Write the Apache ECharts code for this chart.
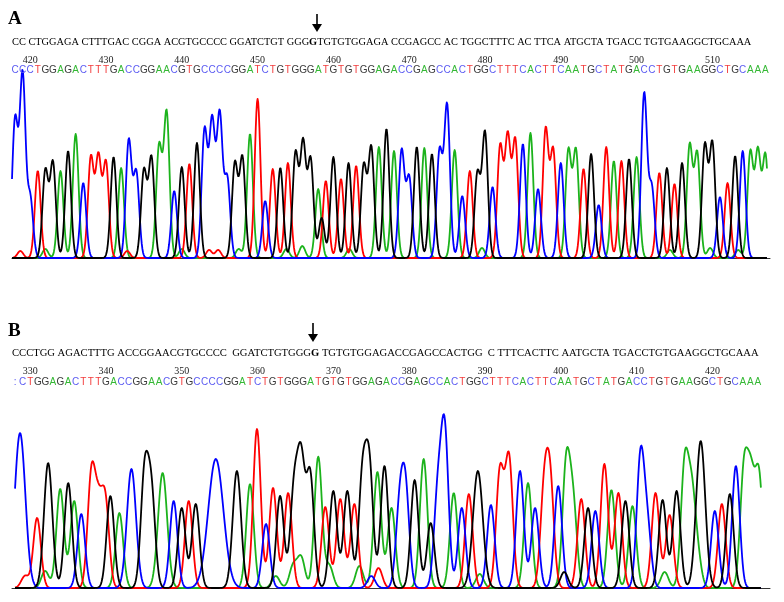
<!DOCTYPE html>
<html>
<head>
<meta charset="utf-8">
<script src="https://cdn.jsdelivr.net/npm/echarts@6/dist/echarts.min.js"></script>
<style>
	html, body { margin: 0; padding: 0; background: #fff; }
	#chart { width: 784px; height: 602px; }
</style>
</head>
<body>
<div id="chart"></div>
<script>
// ---- data, panel A ----
var seqA = 'CCCTGGAGACTTTGACCGGAACGTGCCCCGGATCTGTGGGATGTGTGGAGACCGAGCCACTGGCTTTCACTTCAATGCTATGACCTGTGAAGGCTGCAAA';
var startA = 418;
var heightsA = [
	137, 182, 60, 87, 87, 95, 87, 107, 124, 75,
	100, 100, 95, 101, 90, 117, 85, 87, 100, 111,
	145, 67, 91, 94, 115, 127, 135, 142, 79, 94,
	100, 124, 159, 57, 89, 90, 95, 104, 114, 98,
	69, 77, 101, 79, 95, 92, 92, 110, 111, 129,
	107, 107, 80, 111, 110, 104, 106, 152, 108, 62,
	87, 84, 125, 71, 111, 120, 117, 114, 125, 69,
	128, 107, 95, 107, 107, 89, 104, 53, 111, 97,
	97, 99, 101, 164, 70, 85, 90, 74, 95, 112,
	104, 112, 114, 61, 75, 102, 107, 105, 105, 102
];
// small secondary peaks: [offset from start, base, height]
var minorA = [
	[40.45, 'G', 40], [0.7, 'T', 7], [4.0, 'A', 9], [14.8, 'T', 7], [22.0, 'A', 9],
	[25.6, 'T', 8], [26.8, 'T', 8], [29.5, 'A', 9], [35.8, 'A', 9], [37.9, 'A', 12],
	[44.1, 'A', 9], [61.6, 'A', 10], [86.4, 'A', 8], [91.7, 'A', 10], [95.4, 'A', 8]
];
var ticksA = [420, 430, 440, 450, 460, 470, 480, 490, 500, 510];
var refA = ['CC CTGGAGA CTTTGAC CGGA ACGTGCCCC GGATCTGT GGG', 'G', 'TGTGTGGAGA CCGAGCC AC TGGCTTTC AC TTCA ATGCTA TGACC TGTGAAGGCTGCAAA'];

// ---- data, panel B ----
var seqB = ':CTGGAGACTTTGACCGGAACGTGCCCCGGATCTGTGGGATGTGTGGAGACCGAGCCACTGGCTTTCACTTCAATGCTATGACCTGTGAAGGCTGCAAA';
var startB = 328;
// [offset from start, base, height, width]
var peaksB = [
	[0.66, 'C', 155, 0.7], [2.91, 'T', 70], [4.37, 'G', 125, 0.55], [5.96, 'A', 99], [7.02, 'G', 105],
	[7.81, 'A', 87], [8.74, 'C', 74], [10.07, 'T', 110], [10.99, 'T', 70], [11.92, 'T', 84],
	[12.58, 'G', 92], [13.77, 'A', 75], [15.36, 'C', 119, 0.6], [17.09, 'G', 112], [18.0, 'G', 92],
	[19.47, 'A', 115, 0.6], [20.93, 'C', 87], [21.99, 'G', 80], [22.91, 'T', 87], [23.84, 'G', 84],
	[26.49, 'C', 129, 1.0], [29.27, 'G', 117, 0.55], [31.0, 'A', 104], [31.92, 'T', 159], [33.11, 'C', 64],
	[34.04, 'T', 100], [34.97, 'G', 92], [36.03, 'T', 95], [36.8, 'G', 95], [37.75, 'G', 122],
	[38.94, 'G', 112], [40.0, 'A', 131], [40.93, 'T', 81], [41.99, 'G', 97], [42.91, 'T', 89],
	[43.84, 'G', 97], [44.77, 'T', 84], [45.83, 'G', 108], [46.75, 'G', 118], [47.81, 'A', 116],
	[48.74, 'G', 122], [49.67, 'A', 80], [50.73, 'C', 76], [51.52, 'C', 94], [52.72, 'G', 108],
	[53.91, 'A', 129], [54.83, 'G', 65], [55.76, 'C', 90], [56.69, 'C', 154], [57.88, 'A', 95],
	[58.94, 'C', 80], [59.87, 'T', 94], [61.06, 'G', 117, 0.65], [62.78, 'C', 83], [63.97, 'T', 116],
	[65.17, 'T', 129], [66.62, 'C', 117], [67.68, 'A', 105], [68.61, 'C', 80], [69.8, 'T', 92],
	[70.6, 'T', 101], [71.66, 'C', 102], [72.72, 'A', 122], [73.64, 'A', 80], [74.7, 'T', 89],
	[75.6, 'G', 80], [76.56, 'C', 77], [77.75, 'T', 124], [78.68, 'A', 98], [79.6, 'T', 95],
	[80.53, 'G', 87], [81.46, 'A', 82], [82.52, 'C', 130], [83.44, 'C', 58], [84.5, 'T', 95],
	[85.43, 'G', 88], [86.36, 'T', 73], [87.28, 'G', 97], [88.34, 'A', 120], [89.27, 'A', 86],
	[90.46, 'G', 147, 0.6], [92.32, 'C', 77], [93.25, 'T', 84], [94.3, 'G', 94], [95.1, 'C', 122],
	[96.16, 'A', 114], [97.09, 'A', 100], [98.15, 'A', 110]
];
var minorB = [
	[1.32, 'T', 12], [3.97, 'A', 17], [34.4, 'A', 12], [36.7, 'A', 22], [37.75, 'A', 30],
	[41.46, 'A', 22], [45.43, 'A', 22], [47.0, 'C', 12], [47.95, 'T', 20], [61.3, 'A', 14],
	[72.45, 'G', 16], [85.7, 'A', 16], [90.07, 'A', 28]
];
var ticksB = [330, 340, 350, 360, 370, 380, 390, 400, 410, 420];
var refB = ['CCCTGG AGACTTTG ACCGGAACGTGCCCC  GGATCTGTGGG', 'G', ' TGTGTGGAGACCGAGCCACTGG  C TTTCACTTC AATGCTA TGACCTGTGAAGGCTGCAAA'];

// ---- styles ----
var traceColors = {A: '#1cb31c', C: '#0000ff', G: '#000000', T: '#ff0000'};
var letterColors = {A: '#34b834', C: '#5a5af2', G: '#3a3a3a', T: '#f23c3c', ':': '#5a5af2'};
var drawOrder = ['A', 'T', 'C', 'G'];
var yMax = 185;

var peaksA = [];
seqA.split('').forEach(function (b, i) {
	peaksA.push([startA + i, b, heightsA[i]]);
});
minorA.forEach(function (p) {
	peaksA.push([startA + p[0], p[1], p[2]]);
});
var allB = peaksB.concat(minorB).map(function (p) {
	return [startB + p[0], p[1], p[2], p[3]];
});

function traceSeries(axis, peaks, from, to, sigma) {
	return {
		type: 'custom',
		xAxisIndex: axis,
		yAxisIndex: axis,
		silent: true,
		clip: false,
		data: drawOrder.map(function (b, k) { return [from, 0, k]; }),
		renderItem: function (params, api) {
			var base = drawOrder[params.dataIndex];
			var own = peaks.filter(function (p) { return p[1] === base; });
			var pts = [];
			for (var x = from; x <= to + 1e-9; x += 0.08) {
				var v = 0;
				own.forEach(function (p) {
					var s = p[3] || sigma;
					var d = x - p[0];
					v += p[2] * Math.exp(-d * d / (2 * s * s));
				});
				pts.push(api.coord([x, v]));
			}
			return {
				type: 'polyline',
				shape: {points: pts},
				style: {stroke: traceColors[base], lineWidth: 1.8, fill: null, lineJoin: 'round'}
			};
		}
	};
}

function textRow(axis, items, dy, font, colorFn) {
	return {
		type: 'custom',
		xAxisIndex: axis,
		yAxisIndex: axis,
		silent: true,
		clip: false,
		data: items.map(function (it) { return [it[0], 0]; }),
		renderItem: function (params, api) {
			var p = api.coord([api.value(0), yMax]);
			var t = items[params.dataIndex][1];
			return {
				type: 'text',
				x: p[0],
				y: p[1] + dy,
				style: {text: t, fill: colorFn(t), font: font, align: 'center', verticalAlign: 'middle'}
			};
		}
	};
}

function letterItems(seq, start) {
	return seq.split('').map(function (b, i) { return [start + i, b]; });
}
function tickItems(ticks) {
	return ticks.map(function (t) { return [t, String(t)]; });
}

function xAxisFor(grid, min, max) {
	return {
		type: 'value', gridIndex: grid, min: min, max: max,
		axisLine: {show: true, lineStyle: {color: '#333', width: 1}},
		axisTick: {show: false}, axisLabel: {show: false}, splitLine: {show: false}
	};
}
function yAxisFor(grid) {
	return {type: 'value', gridIndex: grid, min: 0, max: yMax, show: false};
}

var letterFont = '10px "Liberation Sans"';
var numFont = '10px "Liberation Serif"';

function refText(parts, y, size) {
	return {
		type: 'text', x: 12, y: y, silent: true,
		style: {
			text: '{n|' + parts[0] + '}{b|' + parts[1] + '}{n|' + parts[2] + '}',
			verticalAlign: 'middle',
			rich: {
				n: {fontFamily: 'Liberation Serif', fontSize: size, color: '#111'},
				b: {fontFamily: 'Liberation Serif', fontSize: size, color: '#000', fontWeight: 'bold'}
			}
		}
	};
}
function arrow(x, y0, y1) {
	return {
		type: 'group', silent: true,
		children: [
			{type: 'line', shape: {x1: x, y1: y0, x2: x, y2: y1 - 6}, style: {stroke: '#000', lineWidth: 1.6}},
			{type: 'polygon', shape: {points: [[x - 5, y1 - 8], [x + 5, y1 - 8], [x, y1]]}, style: {fill: '#000'}}
		]
	};
}

var chart = echarts.init(document.getElementById('chart'));
chart.setOption({
	animation: false,
	backgroundColor: '#fff',
	grid: [
		{left: 12, top: 73, width: 758, height: 185},
		{left: 12, top: 403, width: 758, height: 185}
	],
	xAxis: [xAxisFor(0, startA - 0.4, startA + 99.6), xAxisFor(1, startB - 0.4, startB + 99.6)],
	yAxis: [yAxisFor(0), yAxisFor(1)],
	graphic: [
		{type: 'text', x: 8, y: 19, style: {text: 'A', font: 'bold 19px "Liberation Serif"', fill: '#000', verticalAlign: 'middle'}},
		{type: 'text', x: 8, y: 331, style: {text: 'B', font: 'bold 19px "Liberation Serif"', fill: '#000', verticalAlign: 'middle'}},
		refText(refA, 42, 10.35),
		refText(refB, 353, 10.6),
		arrow(317, 14, 32),
		arrow(313, 323, 342)
	],
	series: [
		traceSeries(0, peaksA, startA - 0.4, startA + 99.2, 0.38),
		traceSeries(1, allB, startB, startB + 98.4, 0.5),
		textRow(0, tickItems(ticksA), -13, numFont, function () { return '#222'; }),
		textRow(0, letterItems(seqA, startA), -3, letterFont, function (t) { return letterColors[t]; }),
		textRow(1, tickItems(ticksB), -32, numFont, function () { return '#222'; }),
		textRow(1, letterItems(seqB, startB), -21, letterFont, function (t) { return letterColors[t]; })
	]
});
</script>
</body>
</html>
